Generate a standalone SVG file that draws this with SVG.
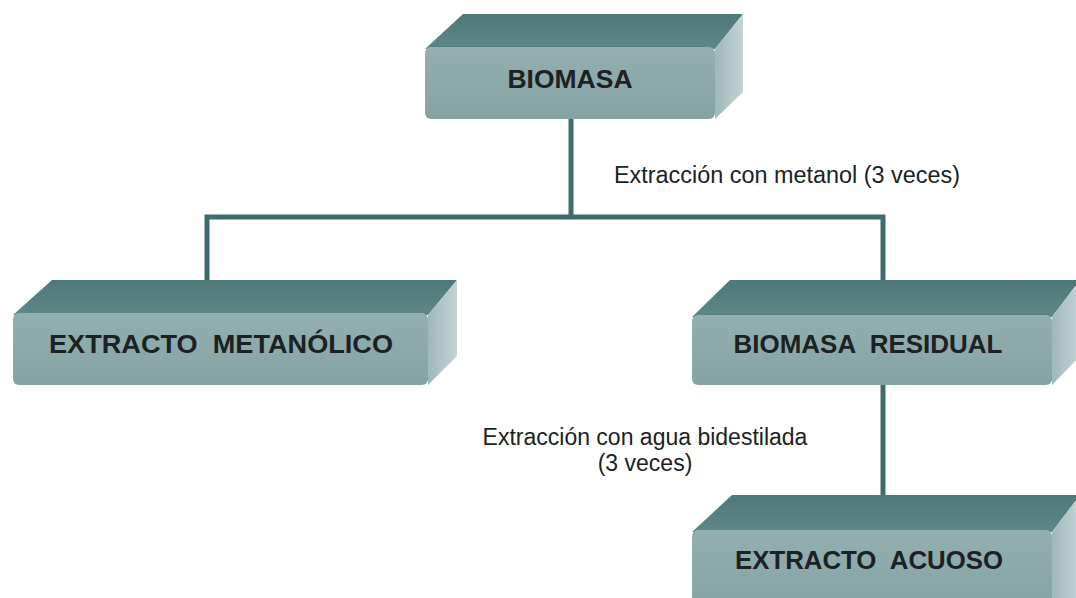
<svg xmlns="http://www.w3.org/2000/svg" width="1076" height="598" viewBox="0 0 1076 598">
  <defs>
    <linearGradient id="gFront" x1="0" y1="0" x2="0" y2="1">
      <stop offset="0" stop-color="#93afb0"/>
      <stop offset="1" stop-color="#86a3a4"/>
    </linearGradient>
    <linearGradient id="gTop" x1="0" y1="0" x2="0" y2="1">
      <stop offset="0" stop-color="#4f7878"/>
      <stop offset="1" stop-color="#5f8788"/>
    </linearGradient>
    <linearGradient id="gSide" x1="0" y1="0" x2="1" y2="0">
      <stop offset="0" stop-color="#9fb8b9"/>
      <stop offset="1" stop-color="#c3d4d4"/>
    </linearGradient>
    <style>
      .front { fill: url(#gFront); }
      .top { fill: url(#gTop); }
      .side { fill: url(#gSide); }
      .lbl { font-family: "Liberation Sans", Arial, sans-serif; font-weight: bold; font-size: 26px; fill: #1c2222; text-anchor: middle; white-space: pre; }
      .note { font-family: "Liberation Sans", Arial, sans-serif; font-size: 23px; fill: #1c2222; }
      .conn { stroke: #3f6b6c; stroke-width: 5; fill: none; stroke-linejoin: miter; }
    </style>
  </defs>
  <rect width="1076" height="598" fill="#ffffff"/>

  <g id="connectors">
    <polyline class="conn" points="571,119 571,217"/>
    <polyline class="conn" points="207,282 207,217 883,217 883,282"/>
    <polyline class="conn" points="883,385 883,497"/>
  </g>

  <g id="node-biomasa">
    <polygon class="top" points="425,49 463,14 743,14 715,49"/>
    <polygon class="side" points="715,49 743,14 743,92 715,119"/>
    <rect class="front" x="425" y="47" width="290" height="72" rx="6"/>
    <text class="lbl" x="570" y="88" textLength="125" lengthAdjust="spacingAndGlyphs">BIOMASA</text>
  </g>

  <g id="node-extracto-metanolico">
    <polygon class="top" points="13,315 52,280 457,280 428,315"/>
    <polygon class="side" points="428,315 457,280 457,356 428,385"/>
    <rect class="front" x="13" y="313" width="415" height="72" rx="6"/>
    <text class="lbl" x="221" y="353" xml:space="preserve" textLength="344" lengthAdjust="spacingAndGlyphs">EXTRACTO  METANÓLICO</text>
  </g>

  <g id="node-biomasa-residual">
    <polygon class="top" points="692,317 730,280 1080,280 1052,317"/>
    <polygon class="side" points="1052,317 1080,280 1080,356 1052,385"/>
    <rect class="front" x="692" y="315" width="360" height="70" rx="6"/>
    <text class="lbl" x="868" y="353" xml:space="preserve" textLength="269" lengthAdjust="spacingAndGlyphs">BIOMASA  RESIDUAL</text>
  </g>

  <g id="node-extracto-acuoso">
    <polygon class="top" points="692,532 732,495 1080,495 1052,532"/>
    <polygon class="side" points="1052,532 1080,495 1080,600 1052,600"/>
    <rect class="front" x="692" y="530" width="360" height="80" rx="6"/>
    <text class="lbl" x="869" y="569" xml:space="preserve" textLength="268" lengthAdjust="spacingAndGlyphs">EXTRACTO  ACUOSO</text>
  </g>

  <g id="labels">
    <text class="note" x="614" y="183" textLength="346" lengthAdjust="spacingAndGlyphs">Extracción con metanol (3 veces)</text>
    <text class="note" x="645" y="445" text-anchor="middle">Extracción con agua bidestilada</text>
    <text class="note" x="645" y="471" text-anchor="middle">(3 veces)</text>
  </g>
</svg>
